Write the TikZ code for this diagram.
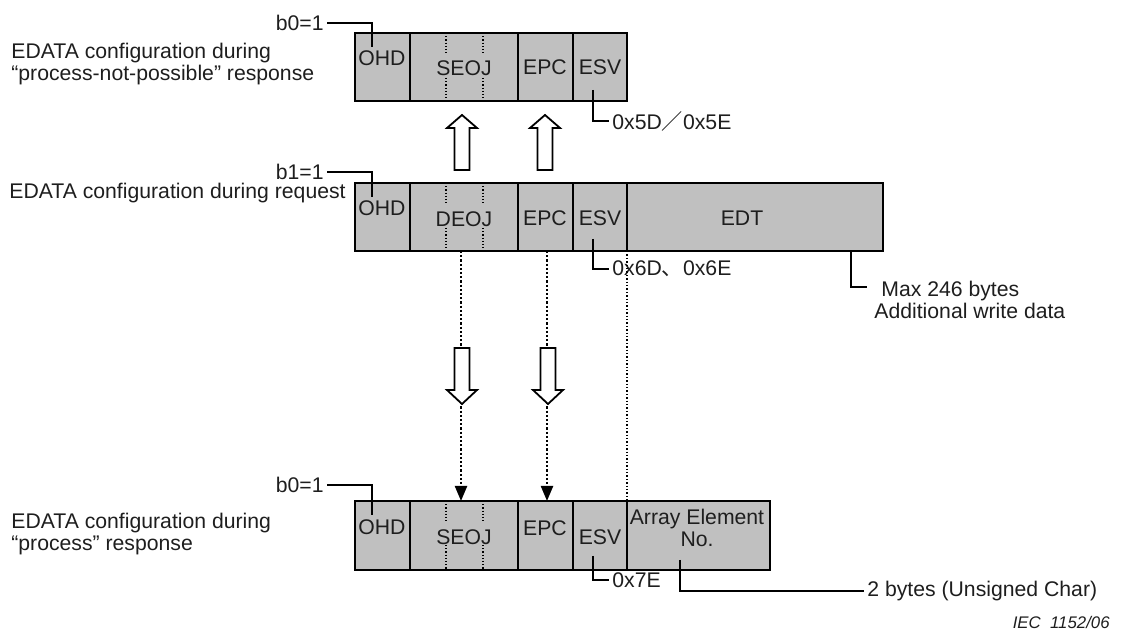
\documentclass[tikz,border=0pt]{standalone}
\usepackage{fontspec}
\setmainfont{Liberation Sans}
\newfontfamily\cjk{Noto Sans CJK SC}
\usetikzlibrary{arrows.meta}
\definecolor{cellgray}{HTML}{C0C0C0}
\definecolor{inkgray}{HTML}{1E1E1E}
\tikzset{
  cell/.style={draw=black,fill=cellgray,line width=1pt},
  sep/.style={densely dotted,line width=0.6pt},
  leader/.style={line width=0.7pt},
  link/.style={densely dotted,line width=1.1pt},
  hollow/.style={draw=black,fill=white,line width=0.9pt,line join=miter},
}
\begin{document}
\begin{tikzpicture}[x=0.5pt,y=-0.5pt,
  every node/.style={font=\fontsize{10.6pt}{11pt}\selectfont,text=inkgray,inner sep=1.5pt}]
\useasboundingbox (0,0) rectangle (1125,635);

% --- "process-not-possible" response
\filldraw[cell] (355,33) rectangle (627,101);
\draw[line width=1pt] (410,33) -- (410,101) (518,33) -- (518,101) (573,33) -- (573,101);
\draw[sep] (446,33) -- (446,53) (446,78) -- (446,101);
\draw[sep] (483,33) -- (483,53) (483,78) -- (483,101);
\node (ohdA) at (382,58) {OHD};
\node (seojA) at (464,68) {SEOJ};
\node (epcA) at (545,67) {EPC};
\node (esvA) at (600,67) {ESV};
\node[anchor=west,align=left] (cfgA) at (8,64) {EDATA configuration during\\“process-not-possible” response};
\node[anchor=east] (bitA) at (327,23) {b0=1};
\draw[leader] (bitA.east) -| (372,47);
\node[anchor=west] (hexA) at (609,121) {0x5D{\cjk ／}0x5E};
\draw[leader] (593,90) |- (hexA.west);

% --- request
\filldraw[cell] (355,183) rectangle (883,251);
\draw[line width=1pt] (410,183) -- (410,251) (518,183) -- (518,251) (573,183) -- (573,251) (627,183) -- (627,251);
\draw[sep] (446,183) -- (446,203) (446,228) -- (446,251);
\draw[sep] (483,183) -- (483,203) (483,228) -- (483,251);
\node (ohdB) at (382,208) {OHD};
\node (deojB) at (464,219) {DEOJ};
\node (epcB) at (545,218) {EPC};
\node (esvB) at (600,218) {ESV};
\node (edtB) at (742,218) {EDT};
\node[anchor=west] (cfgB) at (6,193) {EDATA configuration during request};
\node[anchor=east] (bitB) at (327,172) {b1=1};
\draw[leader] (bitB.east) -| (372,197);
\node[anchor=west] (hexB) at (609,269) {0x6D{\cjk 、}0x6E};
\draw[leader] (593,239) |- (hexB.west);
\node[anchor=west,align=left] (maxB) at (871,300) {\hspace*{3.5pt}Max 246 bytes\\Additional write data};
\coordinate (edtLead) at (851,251);
\draw[leader] (edtLead) |- (867,287);

% --- "process" response
\filldraw[cell] (355,501) rectangle (770,570);
\draw[line width=1pt] (410,501) -- (410,570) (518,501) -- (518,570) (573,501) -- (573,570) (627,501) -- (627,570);
\draw[sep] (446,501) -- (446,522) (446,545) -- (446,570);
\draw[sep] (483,501) -- (483,522) (483,545) -- (483,570);
\node (ohdC) at (382,527) {OHD};
\node (seojC) at (464,537) {SEOJ};
\node (epcC) at (545,528) {EPC};
\node (esvC) at (600,537) {ESV};
\node[align=center] (arrC) at (697,528) {Array Element\\No.};
\node[anchor=west,align=left] (cfgC) at (8,534) {EDATA configuration during\\“process” response};
\node[anchor=east] (bitC) at (327,485) {b0=1};
\draw[leader] (bitC.east) -| (372,515);
\node[anchor=west] (hexC) at (609,580) {0x7E};
\draw[leader] (593,556) |- (hexC.west);
\node[anchor=west] (sizeC) at (864,591) {2 bytes (Unsigned Char)};
\draw[leader] (680,560) |- (sizeC.west);

% --- dotted links from request to "process" response
\coordinate (deojBot) at (461,251);
\coordinate (seojTop) at (461,501);
\coordinate (epcBot) at (547,251);
\coordinate (epcTop) at (547,501);
\coordinate (edtBot) at (627,251);
\coordinate (arrTop) at (627,501);
\draw[link,-{Triangle[length=7.5pt,width=6pt]}] (deojBot) -- (seojTop);
\draw[link,-{Triangle[length=7.5pt,width=6pt]}] (epcBot) -- (epcTop);
\draw[densely dotted,line width=0.7pt] (edtBot) -- (arrTop);

% --- hollow arrows
\draw[hollow] (454.5,170) -- (454.5,128) -- (447,128) -- (462,115) -- (477,128) -- (469.5,128) -- (469.5,170) -- cycle;
\draw[hollow] (537.5,170) -- (537.5,128) -- (530,128) -- (545,115) -- (560,128) -- (552.5,128) -- (552.5,170) -- cycle;
\draw[hollow] (454.5,348) -- (454.5,390) -- (447,390) -- (462,404) -- (477,390) -- (469.5,390) -- (469.5,348) -- cycle;
\draw[hollow] (540.5,348) -- (540.5,390) -- (533,390) -- (548,404) -- (563,390) -- (555.5,390) -- (555.5,348) -- cycle;

\node[anchor=east,font=\fontsize{8.4pt}{9pt}\selectfont\itshape] (iec) at (1113,622) {IEC\ \ 1152/06};
\end{tikzpicture}
\end{document}
